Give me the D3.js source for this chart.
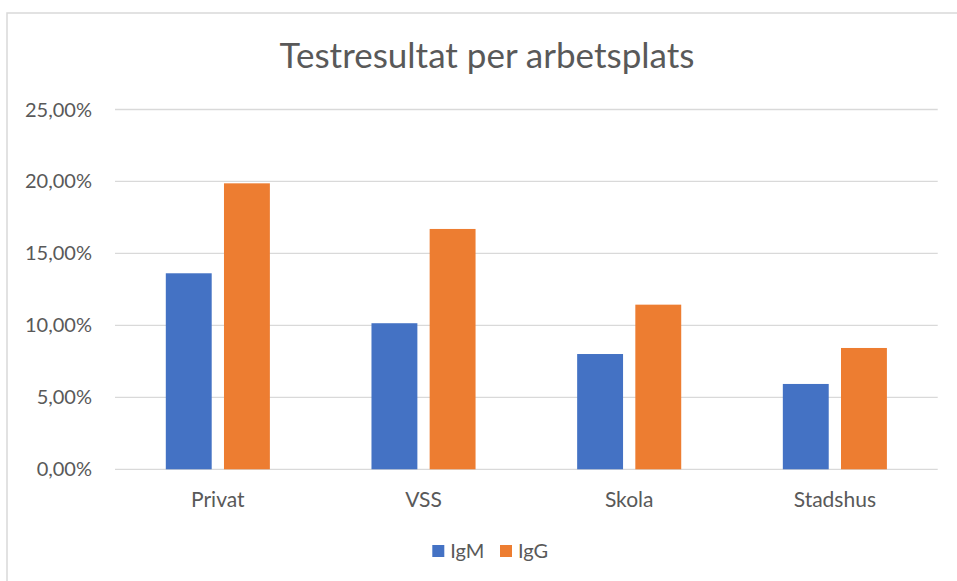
<!DOCTYPE html>
<html lang="sv">
<head>
    <meta charset="utf-8">
    <title>Testresultat per arbetsplats</title>
    <script type="text/javascript" src="https://d3js.org/d3.v7.min.js"></script>
    <style>
        body { margin: 0; background: #fff; }
        .grid line { stroke: #d9d9d9; stroke-width: 1.3; }
        .labels { font-family: Lato, "Open Sans", sans-serif; fill: #595959; }
    </style>
</head>
<body>
<div id="container"></div>
<script type="text/javascript">
    const categories = ["Privat", "VSS", "Skola", "Stadshus"];
    const seriesNames = ["IgM", "IgG"];
    const igM = [13.62, 10.15, 8.01, 5.93];
    const igG = [19.87, 16.70, 11.44, 8.43];
    const yTicks = [0, 5, 10, 15, 20, 25];
    const colors = ["#4472c4", "#ed7d31"];

    const w = 957, h = 581;
    const svg = d3.select("#container").append("svg")
        .attr("width", w).attr("height", h);

    // chart frame (only top and left edges are visible in the crop)
    svg.append("rect")
        .attr("x", 7).attr("y", 13)
        .attr("width", w + 10).attr("height", h + 10)
        .attr("fill", "none").attr("stroke", "#d9d9d9").attr("stroke-width", 1.5);

    const x0 = d3.scaleBand().domain(categories).range([115, 937.7])
        .paddingInner(0.494).paddingOuter(0.247);
    const x1 = d3.scaleBand().domain(seriesNames).range([0, x0.bandwidth()])
        .paddingInner(0.211);
    const y = d3.scaleLinear().domain([0, 25]).range([469.3, 109.5]);

    // gridlines
    svg.append("g").attr("class", "grid")
        .selectAll("line").data(yTicks).enter().append("line")
        .attr("x1", 115).attr("x2", 937.7)
        .attr("y1", d => y(d)).attr("y2", d => y(d));

    // y labels
    const fmt = d => d3.format(".2f")(d).replace(".", ",") + "%";
    svg.selectAll("text.ylab").data(yTicks).enter().append("text")
        .attr("class", "labels ylab")
        .attr("x", 92).attr("y", d => y(d))
        .attr("dy", "0.35em")
        .attr("text-anchor", "end")
        .style("font-size", "20px")
        .text(fmt);

    // bars
    const rows = categories.map((c, i) => ({cat: c, vals: [igM[i], igG[i]]}));
    const groups = svg.selectAll("g.cat").data(rows).enter().append("g")
        .attr("class", "cat")
        .attr("transform", d => "translate(" + x0(d.cat) + ",0)");
    groups.selectAll("rect").data(d => d.vals.map((v, j) => ({s: seriesNames[j], v: v, j: j})))
        .enter().append("rect")
        .attr("x", d => x1(d.s))
        .attr("width", x1.bandwidth())
        .attr("y", d => y(d.v))
        .attr("height", d => y(0) - y(d.v))
        .attr("fill", d => colors[d.j]);

    // category labels
    svg.selectAll("text.xlab").data(categories).enter().append("text")
        .attr("class", "labels xlab")
        .attr("x", d => x0(d) + x0.bandwidth() / 2)
        .attr("y", 507)
        .attr("text-anchor", "middle")
        .style("font-size", "21px")
        .text(d => d);

    // title
    svg.append("text").attr("class", "labels")
        .attr("x", 487).attr("y", 68)
        .attr("text-anchor", "middle")
        .style("font-size", "35px")
        .text("Testresultat per arbetsplats");

    // legend
    const legend = svg.selectAll("g.leg").data(seriesNames).enter().append("g")
        .attr("class", "leg")
        .attr("transform", (d, i) => "translate(" + (432.3 + i * 67.7) + ",545)");
    legend.append("rect").attr("width", 12).attr("height", 12)
        .attr("fill", (d, i) => colors[i]);
    legend.append("text").attr("class", "labels")
        .attr("x", 18).attr("y", 12.5)
        .style("font-size", "20px")
        .text(d => d);
</script>
</body>
</html>
